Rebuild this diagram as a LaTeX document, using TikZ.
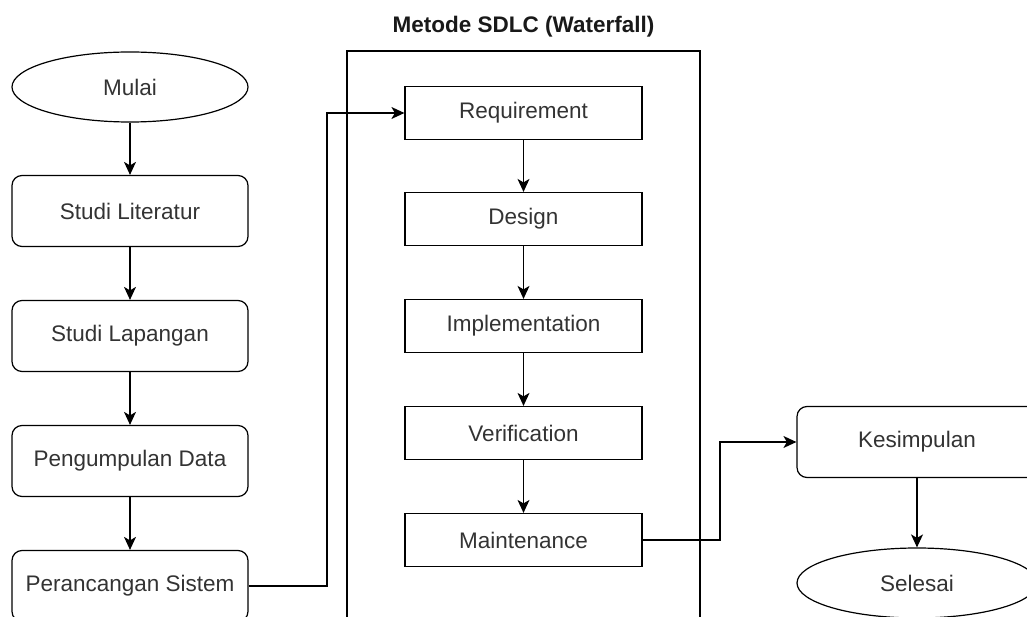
\documentclass[tikz,border=0pt]{standalone}
\usepackage{fontspec}
\setmainfont{Liberation Sans}
\usepackage{tikz}
\usetikzlibrary{calc,positioning,arrows.meta,shapes.geometric}

\begin{document}
\begin{tikzpicture}[x=1pt,y=-1pt,line width=1.2pt,
  every node/.style={font=\fontsize{22.5}{27}\selectfont,text=black!80},
  terminal/.style={draw,ellipse,minimum width=236pt,minimum height=70pt,inner sep=0pt},
  proses/.style={draw,rounded corners=10pt,minimum width=236pt,minimum height=71pt,inner sep=0pt},
  tahap/.style={draw,minimum width=237pt,minimum height=53pt,inner sep=0pt},
  alur/.style={-{Stealth[length=13pt,width=12pt,inset=3.5pt]}}]
\useasboundingbox (0,0) rectangle (1027,617);
\clip (0,0) rectangle (1027,617);
% alur penelitian
\node[terminal] (mulai) at (130,87) {Mulai};
\node[proses] (literatur) at (130,211) {Studi Literatur};
\node[proses] (lapangan) at (130,336) {Studi Lapangan};
\node[proses] (data) at (130,461) {Pengumpulan Data};
\node[proses] (rancang) at (130,586) {Perancangan Sistem};
% metode sdlc
\draw (347,51) rectangle (700,660);
\node[font=\fontsize{22.5}{27}\selectfont\bfseries,text=black!90] (judul) at (523.5,27) {Metode SDLC (Waterfall)};
\node[tahap] (req) at (523.5,113) {Requirement};
\node[tahap] (design) at (523.5,219) {Design};
\node[tahap] (impl) at (523.5,326) {Implementation};
\node[tahap] (verif) at (523.5,433) {Verification};
\node[tahap] (maint) at (523.5,540) {Maintenance};
% akhir
\node[proses,minimum width=240pt] (kesimpulan) at (917,442) {Kesimpulan};
\node[terminal,minimum width=240pt] (selesai) at (917,583) {Selesai};
\coordinate (belok1) at (327,586);
\coordinate (belok2) at (720,540);
\draw[alur] (mulai) -- (literatur);
\draw[alur] (literatur) -- (lapangan);
\draw[alur] (lapangan) -- (data);
\draw[alur] (data) -- (rancang);
\draw[alur] (rancang.east) -- (belok1) |- (req.west);
\draw[alur] (req) -- (design);
\draw[alur] (design) -- (impl);
\draw[alur] (impl) -- (verif);
\draw[alur] (verif) -- (maint);
\draw[alur] (maint.east) -- (belok2) |- (kesimpulan.west);
\draw[alur] (kesimpulan) -- (selesai);
\end{tikzpicture}
\end{document}
